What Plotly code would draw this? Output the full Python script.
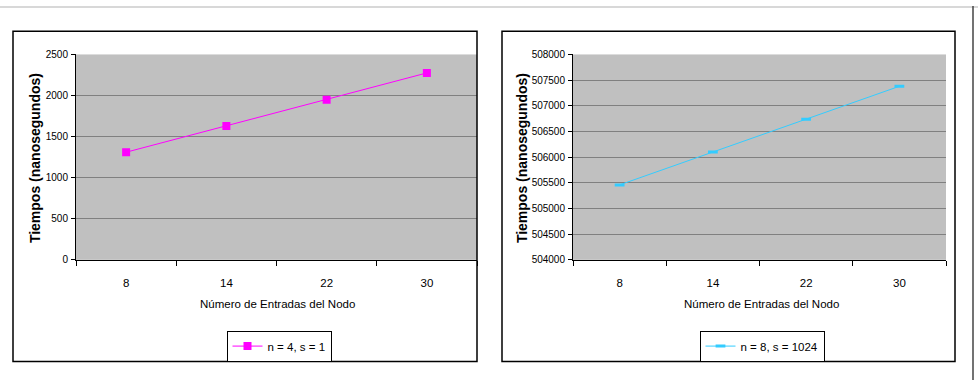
import plotly.graph_objects as go

categories = ["8", "14", "22", "30"]
series_left = [1310, 1630, 1950, 2275]
series_right = [505460, 506100, 506740, 507380]
name_left = "n = 4, s = 1"
name_right = "n = 8, s = 1024"
x_title = "Número de Entradas del Nodo"
y_title = "Tiempos (nanosegundos)"

W, H = 978, 386
def px(x): return x / W
def py(y): return 1 - y / H

FONT = "Liberation Sans, Arial, sans-serif"

fig = go.Figure()
fig.add_trace(go.Scatter(x=categories, y=series_left, mode="lines+markers", name=name_left,
                         line=dict(color="#FF00FF", width=1),
                         marker=dict(symbol="square", size=8, color="#FF00FF"),
                         xaxis="x", yaxis="y", legend="legend"))
fig.add_trace(go.Scatter(x=categories, y=series_right, mode="lines+markers", name=name_right,
                         line=dict(color="#33CCFF", width=1),
                         marker=dict(symbol="line-ew", size=7, color="#33CCFF",
                                     line=dict(color="#33CCFF", width=3)),
                         xaxis="x2", yaxis="y2", legend="legend2"))

x_common = dict(showline=True, linecolor="black", linewidth=1, ticks="outside",
                ticklen=5, tickcolor="black", tickfont=dict(family=FONT, size=11.5, color="black"),
                zeroline=False, type="category", tickson="boundaries", range=[-0.5, 3.5],
                showgrid=False, ticklabelstandoff=12)
y_common = dict(showline=True, linecolor="black", linewidth=1, ticks="outside",
                ticklen=4, tickcolor="black", tickfont=dict(family=FONT, size=10, color="black"),
                zeroline=False, showgrid=True, gridcolor="#808080", gridwidth=1, tickformat="d",
                ticklabelstandoff=1, dtick=500)

fig.update_layout(
    width=W, height=H, margin=dict(l=0, r=0, t=0, b=0),
    paper_bgcolor="white", plot_bgcolor="#C0C0C0",
    font=dict(family=FONT, color="black"),
    xaxis=dict(domain=[px(76), px(477)], anchor="y", **x_common),
    yaxis=dict(domain=[py(262), py(50)], anchor="x", range=[0, 2500], **y_common),
    xaxis2=dict(domain=[px(573), px(946)], anchor="y2", **x_common),
    yaxis2=dict(domain=[py(262), py(50)], anchor="x2", range=[504000, 508000], **y_common),
    legend=dict(x=px(279), y=py(335), xanchor="center", yanchor="top", bgcolor="white",
                bordercolor="black", borderwidth=1, itemwidth=30,
                font=dict(family=FONT, size=11.5)),
    legend2=dict(x=px(762), y=py(335), xanchor="center", yanchor="top", bgcolor="white",
                 bordercolor="black", borderwidth=1, itemwidth=30,
                 font=dict(family=FONT, size=11.5)),
    showlegend=True,
)

for x0, x1 in [(13, 477), (502, 955)]:
    fig.add_shape(type="rect", xref="paper", yref="paper", x0=px(x0), x1=px(x1),
                  y0=py(367), y1=py(26), line=dict(color="black", width=1.5))
fig.add_shape(type="line", xref="paper", yref="paper", x0=0, x1=1, y0=py(1), y1=py(1),
              line=dict(color="#d8d8d8", width=2))
fig.add_shape(type="line", xref="paper", yref="paper", x0=px(973), x1=px(973), y0=0, y1=1,
              line=dict(color="#444444", width=1.5))

for cx in [277, 761]:
    fig.add_annotation(text=x_title, xref="paper", yref="paper", x=px(cx), y=py(308),
                       showarrow=False, font=dict(family=FONT, size=11.5, color="black"),
                       xanchor="center", yanchor="middle")
for cx in [35, 522]:
    fig.add_annotation(text="<b>" + y_title + "</b>", xref="paper", yref="paper", x=px(cx), y=py(157),
                       showarrow=False, textangle=-90, font=dict(family=FONT, size=14, color="black"),
                       xanchor="center", yanchor="middle")

fig.write_html("out.html")
